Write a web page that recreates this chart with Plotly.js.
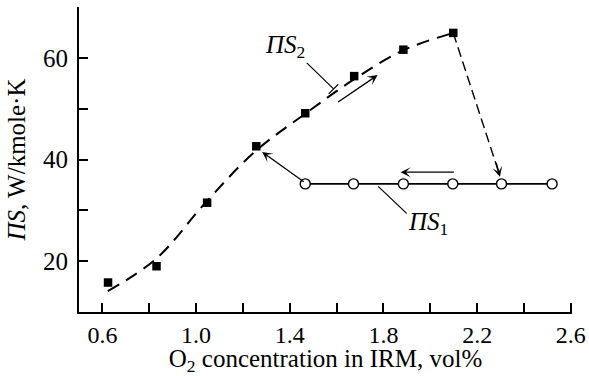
<!DOCTYPE html>
<html><head><meta charset="utf-8">
<script src="https://cdn.plot.ly/plotly-3.0.1.min.js"></script>
<style>html,body{margin:0;padding:0;background:#fff;overflow:hidden}#c{width:589px;height:376px}</style>
</head><body><div id="c"></div>
<script>
// PS2 measured points (filled squares)
const ps2X = [0.624, 0.831, 1.047, 1.257, 1.466, 1.675, 1.885, 2.098];
const ps2Y = [15.8, 19.0, 31.5, 42.6, 49.1, 56.4, 61.6, 64.9];
// PS2 fitted dashed curve
const fitX = [0.623, 0.83, 1.04, 1.25, 1.466, 1.675, 1.885, 2.098];
const fitY = [14.1, 20.5, 31.5, 41.5, 49.0, 55.8, 61.5, 64.9];
// drop from PS2 maximum to PS1 line
const dropX = [2.098, 2.297];
const dropY = [64.9, 36.8];
// PS1 points (open circles)
const ps1X = [1.466, 1.672, 1.885, 2.096, 2.304, 2.52];
const ps1Y = [35.2, 35.2, 35.2, 35.2, 35.2, 35.2];
// tick labels
const xTicks = [0.6, 1.0, 1.4, 1.8, 2.2, 2.6];
const xTickText = ['0.6', '1.0', '1.4', '1.8', '2.2', '2.6'];
const yTicks = [20, 40, 60];
const yTickText = ['20', '40', '60'];

const FAM = 'Liberation Serif, serif';
const FS = 25;
const traces = [
  {x: fitX, y: fitY, mode: 'lines', line: {shape: 'spline', color: '#000', width: 2, dash: '13px,8px'}, hoverinfo: 'skip'},
  {x: dropX, y: dropY, mode: 'lines', line: {color: '#000', width: 1.4, dash: '10px,5px'}, hoverinfo: 'skip'},
  {x: ps2X, y: ps2Y, mode: 'markers', marker: {symbol: 'square', size: 8.5, color: '#000'}},
  {x: ps1X, y: ps1Y, mode: 'lines+markers', line: {color: '#000', width: 1.6},
   marker: {symbol: 'circle', size: 10, color: '#fff', line: {color: '#000', width: 1.4}}}
];

function arrow(x, y, ax, ay) {
  return {x: x, y: y, ax: ax, ay: ay, xref: 'x', yref: 'y', axref: 'x', ayref: 'y',
    text: '', showarrow: true, arrowhead: 3, arrowsize: 1.3, arrowwidth: 1.3, arrowcolor: '#000'};
}
function leader(x, y, ax, ay) {
  return {x: x, y: y, ax: ax, ay: ay, xref: 'x', yref: 'y', axref: 'x', ayref: 'y',
    text: '', showarrow: true, arrowhead: 0, arrowwidth: 1.2, arrowcolor: '#000'};
}

const layout = {
  width: 589, height: 376,
  margin: {l: 79, r: 17, t: 7, b: 64},
  paper_bgcolor: '#fff', plot_bgcolor: '#fff',
  showlegend: false,
  font: {family: FAM, size: FS, color: '#000'},
  xaxis: {range: [0.5, 2.605], showgrid: false, zeroline: false, showline: true, linecolor: '#000', linewidth: 2,
    ticks: 'inside', ticklen: 9, tickwidth: 1.6, tickcolor: '#000', tickvals: xTicks, ticktext: xTickText,
    minor: {dtick: 0.2, tick0: 0.6, ticks: 'inside', ticklen: 9, tickwidth: 1.6, tickcolor: '#000', showgrid: false},
    tickfont: {family: FAM, size: 24, color: '#000'}, title: {text: 'O<sub>2</sub> concentration in IRM, vol%', font: {family: FAM, size: FS, color: '#000'}, standoff: 2}},
  yaxis: {range: [10, 70], showgrid: false, zeroline: false, showline: true, linecolor: '#000', linewidth: 2,
    ticks: 'inside', ticklen: 9, tickwidth: 1.6, tickcolor: '#000', tickvals: yTicks, ticktext: yTickText,
    ticklabelstandoff: 4,
    minor: {dtick: 10, tick0: 10, ticks: 'inside', ticklen: 9, tickwidth: 1.6, tickcolor: '#000', showgrid: false},
    tickfont: {family: FAM, size: FS, color: '#000'}, title: {text: '<i>ΠS</i>, W/kmole·K', font: {family: FAM, size: FS, color: '#000'}, standoff: 10}},
  annotations: [
    arrow(1.282, 41.5, 1.466, 35.4),
    arrow(1.775, 56.6, 1.60, 51.1),
    arrow(1.873, 37.5, 2.107, 37.5),
    arrow(2.297, 36.6, 2.280, 39.6),
    leader(1.587, 53.9, 1.466, 59.3),
    leader(1.899, 29.4, 1.771, 35.0),
    {x: 1.38, y: 62.2, xref: 'x', yref: 'y', text: '<i>ΠS</i><sub>2</sub>', showarrow: false, xanchor: 'center', yanchor: 'middle', font: {family: FAM, size: FS, color: '#000'}},
    {x: 1.99, y: 27.5, xref: 'x', yref: 'y', text: '<i>ΠS</i><sub>1</sub>', showarrow: false, xanchor: 'center', yanchor: 'middle', font: {family: FAM, size: FS, color: '#000'}}
  ],
  shapes: [
    {type: 'line', xref: 'x', yref: 'y', x0: 1.566, y0: 52.9, x1: 1.607, y1: 54.8, line: {color: '#000', width: 1.2}}
  ]
};
Plotly.newPlot('c', traces, layout, {displayModeBar: false});
</script></body></html>
